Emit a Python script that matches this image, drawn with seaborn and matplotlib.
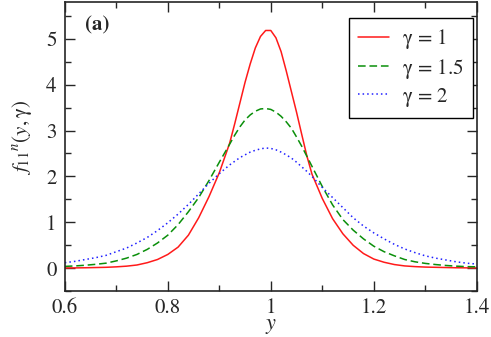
import numpy as np
import pandas as pd
import seaborn as sns
import matplotlib.pyplot as plt
from matplotlib.ticker import MultipleLocator, FixedLocator, FixedFormatter

# values
y_grid = [0.60, 0.62, 0.64, 0.66, 0.68, 0.70, 0.72, 0.74, 0.76, 0.78,
          0.80, 0.82, 0.84, 0.86, 0.88, 0.90, 0.92,
          0.93, 0.94, 0.95, 0.96, 0.97, 0.98, 0.99, 1.00, 1.01, 1.02,
          1.03, 1.04, 1.05, 1.06, 1.07,
          1.08, 1.10, 1.12, 1.14, 1.16, 1.18, 1.20, 1.22, 1.24, 1.26,
          1.28, 1.30, 1.32, 1.34, 1.36, 1.38, 1.40]

f_gamma1 = [0.005, 0.007, 0.01, 0.015, 0.02, 0.03, 0.045, 0.07, 0.12, 0.19,
            0.30, 0.46, 0.72, 1.10, 1.56, 2.08, 2.72,
            3.15, 3.60, 4.05, 4.45, 4.80, 5.05, 5.18, 5.18, 5.02, 4.72,
            4.30, 3.85, 3.40, 2.92, 2.45,
            2.05, 1.52, 1.08, 0.75, 0.50, 0.32, 0.20, 0.13, 0.08, 0.05,
            0.035, 0.025, 0.02, 0.015, 0.01, 0.008, 0.006]

f_gamma15 = [0.04, 0.05, 0.065, 0.085, 0.11, 0.16, 0.22, 0.30, 0.41, 0.55,
             0.72, 0.95, 1.23, 1.54, 1.91, 2.31, 2.70,
             2.90, 3.08, 3.23, 3.34, 3.42, 3.47, 3.48, 3.46, 3.40, 3.31,
             3.19, 3.05, 2.86, 2.66, 2.44,
             2.22, 1.78, 1.38, 1.06, 0.83, 0.64, 0.48, 0.36, 0.27, 0.19,
             0.14, 0.105, 0.08, 0.06, 0.045, 0.035, 0.03]

f_gamma2 = [0.12, 0.15, 0.19, 0.23, 0.28, 0.36, 0.44, 0.55, 0.67, 0.82,
            0.99, 1.18, 1.39, 1.62, 1.85, 2.06, 2.25,
            2.33, 2.41, 2.47, 2.53, 2.57, 2.60, 2.62, 2.61, 2.58, 2.53,
            2.47, 2.40, 2.31, 2.21, 2.11,
            2.00, 1.76, 1.54, 1.32, 1.10, 0.92, 0.77, 0.64, 0.52, 0.42,
            0.34, 0.27, 0.22, 0.18, 0.14, 0.11, 0.09]

labels = [r"$\mathrm{\gamma}$ = 1", r"$\mathrm{\gamma}$ = 1.5", r"$\mathrm{\gamma}$ = 2"]
x_ticks = [0.6, 0.8, 1.0, 1.2, 1.4]
x_ticklabels = ["0.6", "0.8", "1", "1.2", "1.4"]

sns.set_style("ticks")
plt.rcParams["font.family"] = "serif"
plt.rcParams["font.serif"] = ["STIXGeneral", "Liberation Serif", "DejaVu Serif"]
plt.rcParams["mathtext.fontset"] = "stix"

df = pd.DataFrame({"y": y_grid * 3,
                   "f": f_gamma1 + f_gamma15 + f_gamma2,
                   "gamma": [labels[0]] * len(y_grid) + [labels[1]] * len(y_grid)
                            + [labels[2]] * len(y_grid)})

fig = plt.figure(figsize=(4.91, 3.37), dpi=100)
ax = fig.add_axes([0.132, 0.136, 0.839, 0.858])

colors = ["#ff1a1a", "#0a8f0a", "#2020ff"]
styles = ["-", (0, (5, 2.5)), (0, (1, 2))]
for lab, col, ls in zip(labels, colors, styles):
    sub = df[df["gamma"] == lab]
    sns.lineplot(data=sub, x="y", y="f", ax=ax, color=col, linestyle=ls,
                 linewidth=1.1, label=lab)

ax.set_xlim(0.6, 1.4)
ax.set_ylim(-0.5, 5.8)
ax.xaxis.set_major_locator(FixedLocator(x_ticks))
ax.xaxis.set_major_formatter(FixedFormatter(x_ticklabels))
ax.xaxis.set_minor_locator(MultipleLocator(0.1))
ax.yaxis.set_major_locator(MultipleLocator(1))
ax.yaxis.set_minor_locator(MultipleLocator(0.5))
ax.tick_params(which="both", direction="in", top=True, right=True,
               labelsize=15, width=1.0)
ax.tick_params(axis="x", pad=5)
ax.tick_params(axis="y", pad=6)
ax.tick_params(which="major", length=7)
ax.tick_params(which="minor", length=4)
for sp in ax.spines.values():
    sp.set_linewidth(1.2)

ax.set_xlabel(r"$y$", fontsize=16, labelpad=-1)
ax.set_ylabel(r"$f_{\mathit{11}}{}^{n}(y,\mathrm{\gamma})$", fontsize=15)
ax.yaxis.set_label_coords(-0.075, 0.53)

ax.text(0.05, 0.9, "(a)", transform=ax.transAxes, fontsize=15,
        fontweight="bold")

leg = ax.legend(loc="upper right", fontsize=15, frameon=True, fancybox=False,
                edgecolor="black", framealpha=1, handlelength=1.5,
                handletextpad=0.6, borderpad=0.45, labelspacing=0.25,
                borderaxespad=0, bbox_to_anchor=(0.99, 0.945))
leg.get_frame().set_linewidth(1.0)

fig.savefig("out.png", dpi=100)
